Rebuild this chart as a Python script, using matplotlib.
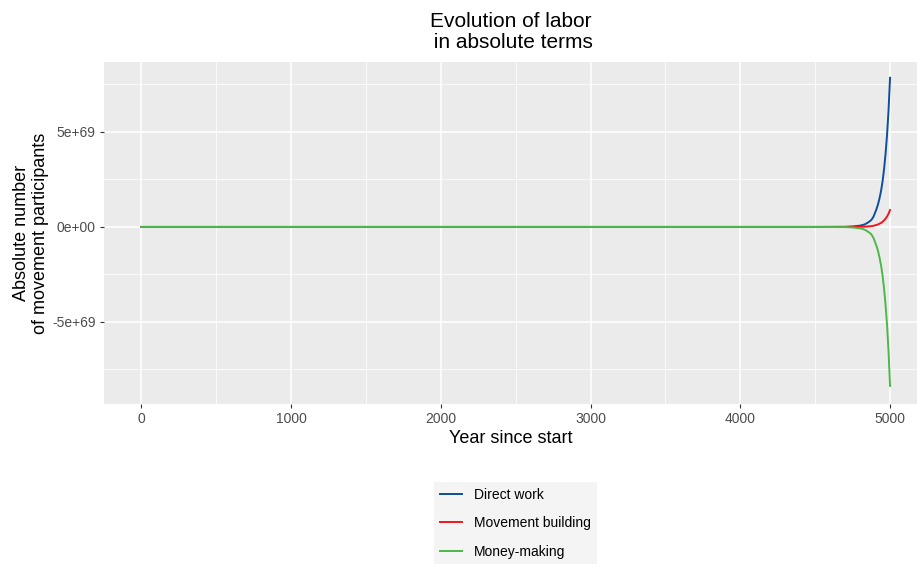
import matplotlib.pyplot as plt
from matplotlib.ticker import FixedLocator

# values (units of 1e69 people)
years = [0, 1000, 2000, 3000, 4000, 4500, 4700, 4750, 4800, 4830, 4850, 4870,
         4880, 4890, 4900, 4910, 4920, 4930, 4940, 4950, 4960, 4970, 4980, 4990, 5000]
direct_work = [0, 0, 0, 0, 0, 0.0005, 0.007, 0.025, 0.07, 0.13, 0.22, 0.33,
               0.42, 0.55, 0.75, 0.95, 1.2, 1.52, 1.9, 2.4, 3.05, 3.85, 4.85, 6.15, 7.85]
movement_building = [0, 0, 0, 0, 0, 0.0001, 0.001, 0.003, 0.008, 0.015, 0.025, 0.037,
                     0.047, 0.062, 0.085, 0.107, 0.135, 0.172, 0.215, 0.27, 0.345, 0.435, 0.55, 0.695, 0.89]
money_making = [0, 0, 0, 0, 0, -0.0005, -0.0075, -0.027, -0.075, -0.14, -0.235, -0.35,
                -0.45, -0.59, -0.8, -1.01, -1.28, -1.62, -2.03, -2.56, -3.25, -4.1, -5.17, -6.56, -8.37]

series = [("Direct work", direct_work, "#0C4F9C"),
          ("Movement building", movement_building, "#F5141E"),
          ("Money-making", money_making, "#4CB848")]

plt.rcParams['font.family'] = ['Liberation Sans', 'DejaVu Sans']

fig = plt.figure(figsize=(9.17, 5.64), dpi=100)
ax = fig.add_axes([0.1134, 0.2837, 0.8866, 0.6063])
ax.set_facecolor("#EBEBEB")

for name, vals, col in series:
    ax.plot(years, [v * 1e69 for v in vals], color=col, lw=1.4, label=name)

ax.set_xlim(-250, 5180)
ax.set_ylim(-9.32e69, 8.68e69)
ax.xaxis.set_major_locator(FixedLocator([0, 1000, 2000, 3000, 4000, 5000]))
ax.xaxis.set_minor_locator(FixedLocator([500, 1500, 2500, 3500, 4500]))
ax.yaxis.set_major_locator(FixedLocator([-5e69, 0, 5e69]))
ax.yaxis.set_minor_locator(FixedLocator([-7.5e69, -2.5e69, 2.5e69, 7.5e69]))
ax.set_xticklabels(["0", "1000", "2000", "3000", "4000", "5000"])
ax.set_yticklabels(["-5e+69", "0e+00", "5e+69"])
ax.grid(which="major", color="white", lw=1.1)
ax.grid(which="minor", color="white", lw=0.55)
ax.set_axisbelow(True)
for s in ax.spines.values():
    s.set_visible(False)
ax.tick_params(which="major", length=3, width=0.8, color="#333333", labelcolor="#4D4D4D",
               labelsize=10, pad=3)
ax.tick_params(which="minor", length=0)

ax.set_xlabel("Year since start", fontsize=13, labelpad=3)
ax.set_ylabel("Absolute number\nof movement participants", fontsize=13, labelpad=2)
ax.set_title("Evolution of labor\n in absolute terms", fontsize=15, pad=10, linespacing=1.15)

leg = fig.legend(loc="upper center", bbox_to_anchor=(0.562, 0.1454), frameon=True,
                 facecolor="#F2F2F2", edgecolor="none", fancybox=False, fontsize=10,
                 handlelength=1.6, labelspacing=1.05, borderpad=0.4, handletextpad=0.9,
                 borderaxespad=0)
leg.get_frame().set_linewidth(0)

fig.savefig("out.png", dpi=100)
